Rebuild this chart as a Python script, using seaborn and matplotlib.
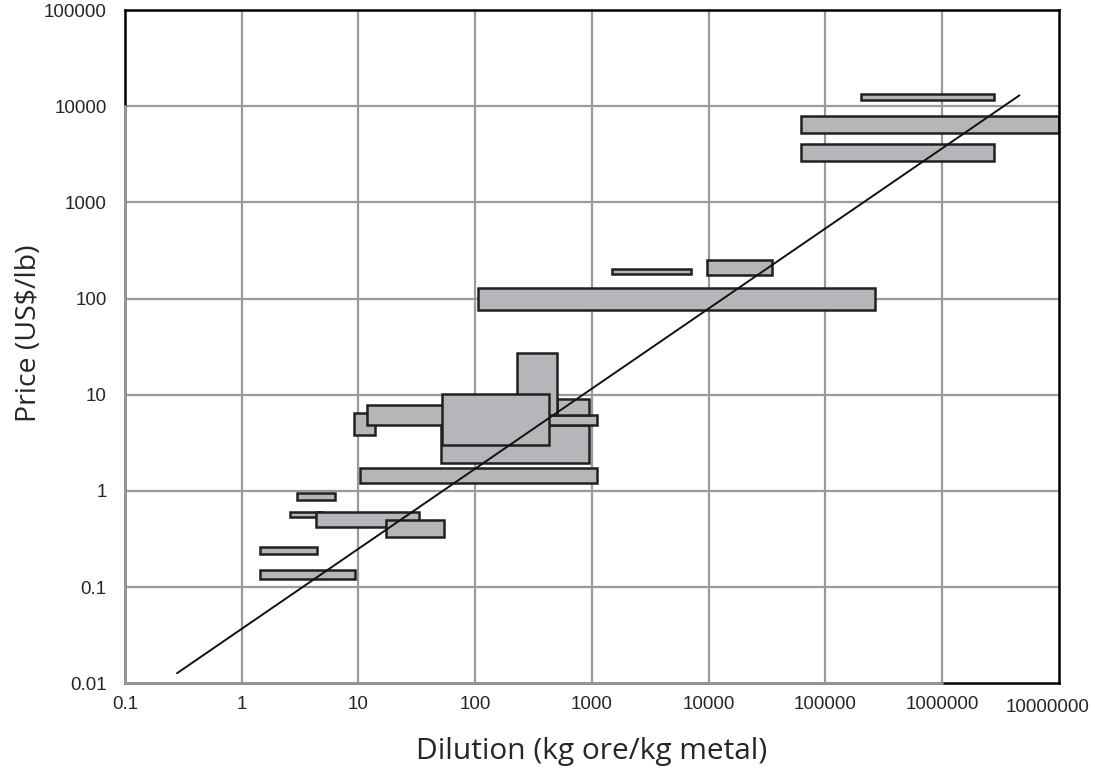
import matplotlib
matplotlib.use("Agg")
import matplotlib.pyplot as plt
import matplotlib.transforms as mtransforms
import seaborn as sns

# boxes: dilution range (x) and price range (y), back to front
x_lo = [2.0e5, 6.2e4, 6.2e4, 1490, 9620, 105, 51, 400, 505, 229, 9.1, 11.8, 52, 10.4, 3.0, 2.6, 4.3, 17.2, 1.44, 1.44]
x_hi = [2.8e6, 1.0e7, 2.8e6, 7010, 35200, 2.65e5, 942, 1110, 942, 505, 13.9, 100, 433, 1110, 6.3, 5.0, 32.8, 53.7, 4.4, 9.3]
y_lo = [11600, 5300, 2700, 180, 177, 76, 1.93, 4.9, 6.2, 6.2, 3.8, 4.9, 3.0, 1.22, 0.80, 0.53, 0.42, 0.33, 0.22, 0.121]
y_hi = [13400, 7900, 4100, 203, 254, 129, 4.9, 6.2, 9.1, 26.9, 6.45, 7.75, 10.2, 1.72, 0.95, 0.61, 0.61, 0.50, 0.26, 0.151]

# trend line
trend_x = [0.28, 4.6e6]
trend_y = [0.0127, 13000]

x_ticks = [0.1, 1, 10, 100, 1000, 10000, 100000, 1000000, 10000000]
x_labels = ["0.1", "1", "10", "100", "1000", "10000", "100000", "1000000", "10000000"]
y_ticks = [0.01, 0.1, 1, 10, 100, 1000, 10000, 100000]
y_labels = ["0.01", "0.1", "1", "10", "100", "1000", "10000", "100000"]

grid_col = "#989a9d"
box_col = "#b5b6b9"
edge_col = "#231f20"

sns.set_style("white")
plt.rcParams['font.family'] = ['Liberation Sans', 'DejaVu Sans']

fig = plt.figure(figsize=(10.95, 7.79), dpi=100)
ax = fig.add_axes([0.114, 0.123, 0.853, 0.864])
ax.set_xscale("log")
ax.set_yscale("log")
ax.set_xlim(0.1, 1e7)
ax.set_ylim(0.01, 1e5)

for t in x_ticks[1:-1]:
    ax.plot([t, t], [0.01, 1e5], color=grid_col, lw=1.6, zorder=1)
for t in y_ticks[1:-1]:
    ax.plot([0.1, 1e7], [t, t], color=grid_col, lw=1.6, zorder=1)

widths = [h - l for l, h in zip(x_lo, x_hi)]
heights = [h - l for l, h in zip(y_lo, y_hi)]
ax.bar(x_lo, heights, width=widths, bottom=y_lo, align="edge",
       color=box_col, edgecolor=edge_col, linewidth=1.8, zorder=2)

sns.lineplot(x=trend_x, y=trend_y, color="#111111", lw=1.4, ax=ax, zorder=3)

for s in ax.spines.values():
    s.set_color("black")
    s.set_linewidth(1.8)
# grey frame portions as in original
ax.plot([0.1, 0.1], [0.01, 1e4], color=grid_col, lw=2.0, clip_on=False, zorder=4)
ax.plot([0.1, 1e6], [0.01, 0.01], color=grid_col, lw=2.0, clip_on=False, zorder=4)

ax.set_xticks(x_ticks)
ax.set_xticklabels(x_labels, fontsize=13.5)
ax.set_yticks(y_ticks)
ax.set_yticklabels(y_labels, fontsize=13.5)
ax.minorticks_off()
ax.tick_params(axis="both", length=0)
ax.tick_params(axis="x", pad=9)
ax.tick_params(axis="y", pad=13)

# last x label sits a bit left and lower in the original
last = ax.get_xticklabels()[-1]
last.set_transform(last.get_transform() +
                   mtransforms.ScaledTranslation(-0.11, -0.03, fig.dpi_scale_trans))

ax.set_xlabel("Dilution (kg ore/kg metal)", fontsize=21.5, family="Open Sans", labelpad=15)
ax.set_ylabel("Price (US$/lb)", fontsize=20.5, family="Open Sans")
ax.yaxis.set_label_coords(-0.088, 0.52)

fig.savefig("out.png", dpi=100)
